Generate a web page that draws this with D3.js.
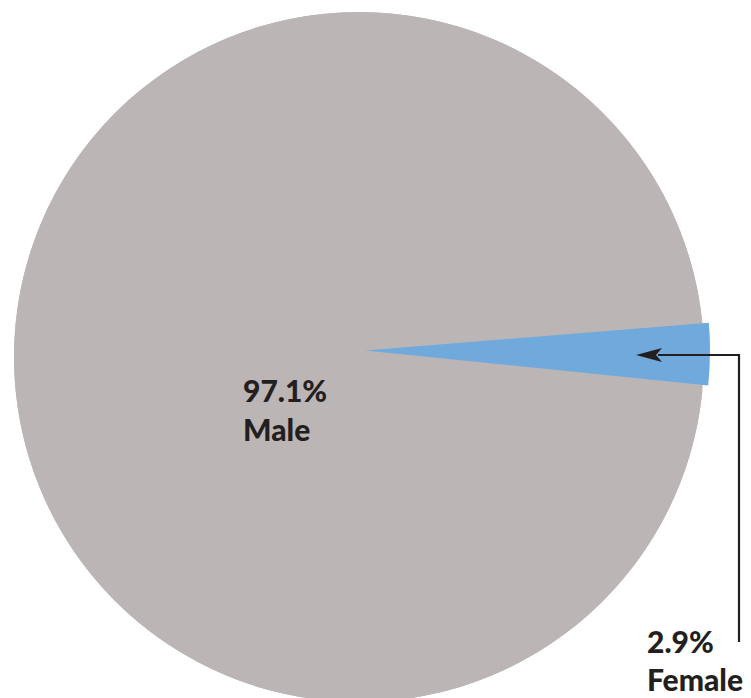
<!DOCTYPE html>
<html>
<head>
<meta charset="utf-8">
<script src="https://cdn.jsdelivr.net/npm/d3@7"></script>
<style>
  body { margin: 0; background: #fff; }
  svg text { font-family: "Lato", "DejaVu Sans", sans-serif; font-weight: 900; fill: #231f20; }
</style>
</head>
<body>
<svg id="chart" width="751" height="698"></svg>
<script>
// Gender split
const categories = ["Male", "Female"];
const shares = [97.1, 2.9];
const labels = ["97.1%", "2.9%"];
const colors = ["#bcb5b6", "#70a9dc"];

const width = 751, height = 698;
const svg = d3.select("#chart");

// pie geometry
const center = [359, 357];
const radius = 345;
const femaleMid = (90.6) * Math.PI / 180; // female wedge points right, a touch below horizontal
const femaleOffset = [6, -6.5]; // female wedge sits a little off the main disc

const data = categories.map((c, i) => ({ name: c, value: shares[i], label: labels[i], color: colors[i] }));
const total = d3.sum(shares);
const startAngle = femaleMid - 2 * Math.PI * (shares[0] + shares[1] / 2) / total;

const pie = d3.pie()
    .sort(null)
    .value(d => d.value)
    .startAngle(startAngle)
    .endAngle(startAngle + 2 * Math.PI);

const arc = d3.arc().innerRadius(0).outerRadius(radius);
const arcs = pie(data);

// base disc so the offset wedge leaves no gaps
svg.append("circle")
    .attr("cx", center[0])
    .attr("cy", center[1])
    .attr("r", radius)
    .attr("fill", colors[0]);

svg.append("g")
    .selectAll("path")
    .data(arcs)
    .join("path")
    .attr("transform", d => d.data.name === "Female"
        ? `translate(${center[0] + femaleOffset[0]},${center[1] + femaleOffset[1]})`
        : `translate(${center[0]},${center[1]})`)
    .attr("d", arc)
    .attr("fill", d => d.data.color);

// Male label inside the pie
const maleText = svg.append("text")
    .attr("x", 243)
    .attr("y", 402)
    .attr("font-size", 30);
maleText.append("tspan").attr("x", 243).text(labels[0]);
maleText.append("tspan").attr("x", 243).attr("y", 441).text(categories[0]);

// Female label with arrow callout
const femText = svg.append("text")
    .attr("x", 647)
    .attr("y", 653)
    .attr("font-size", 30);
femText.append("tspan").attr("x", 647).text(labels[1]);
femText.append("tspan").attr("x", 647).attr("y", 691).text(categories[1]);

svg.append("path")
    .attr("d", "M739,642 V355 H658")
    .attr("fill", "none")
    .attr("stroke", "#231f20")
    .attr("stroke-width", 2.2);

svg.append("path")
    .attr("d", "M636,355 L662,348 L656,355 L662,362 Z")
    .attr("fill", "#231f20");
</script>
</body>
</html>
